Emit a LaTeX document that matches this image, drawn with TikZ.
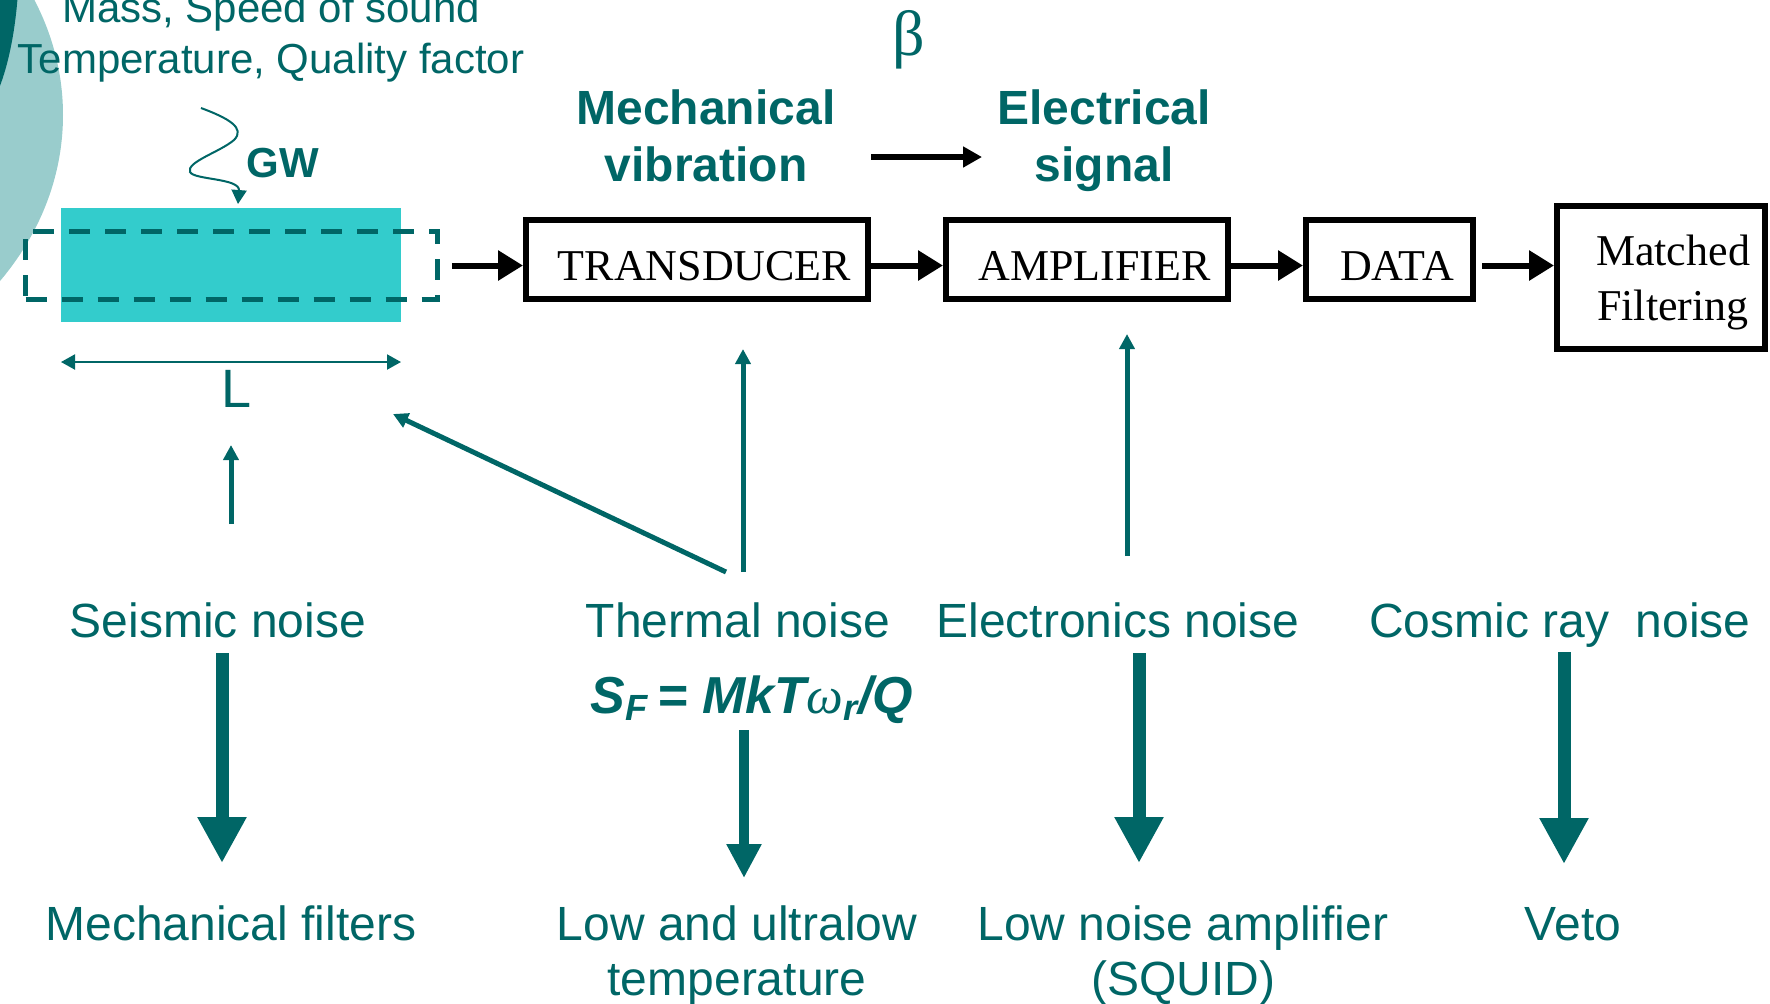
\documentclass[tikz,border=0pt]{standalone}
\usepackage{fontspec}
\setmainfont{Liberation Sans}
\newfontfamily\timesfont{Liberation Serif}
\usepackage{tikz}
\usetikzlibrary{arrows.meta,positioning}
\definecolor{gwteal}{HTML}{006666}
\definecolor{gwcyan}{HTML}{33CCCC}
\definecolor{gwpale}{HTML}{99CCCC}
\tikzset{
  blk/.style   = {rectangle, draw=black, line width=3pt, fill=white, align=center,
                  inner sep=0pt, minimum height=39.5pt,
                  font=\timesfont\fontsize{22}{27.5}\selectfont},
  % single line boxes: text sits a little low and right, as in the slide
  onel/.style  = {blk, text height=20.5pt, text depth=0pt,
                  execute at begin node={\hspace*{7.5pt}}},
  bar/.style   = {rectangle, fill=gwcyan, inner sep=0pt, outer sep=0pt,
                  minimum width=170pt, minimum height=57pt},
  dashbox/.style = {rectangle, draw=gwteal, line width=2.4pt, inner sep=0pt,
                  dash pattern=on 10.5pt off 7.5pt, minimum width=206pt, minimum height=34.15pt},
  % base of a two line node is the baseline of its last line
  lbl/.style   = {text=gwteal, align=center, inner sep=0pt, anchor=base,
                  font=\fontsize{24}{27.5}\selectfont},
  small/.style = {lbl, font=\fontsize{21}{25.5}\selectfont},
  head/.style  = {lbl, font=\bfseries\fontsize{24}{28.5}\selectfont},
  flow/.style  = {-{Triangle[length=12.5pt,width=14.5pt]}, line width=3pt, draw=black},
  conv/.style  = {-{Triangle[length=9.5pt,width=10pt]}, line width=3pt, draw=black},
  up/.style    = {-{Triangle[length=7.5pt,width=7.5pt]}, line width=2.5pt, draw=gwteal},
  dim/.style   = {{Triangle[length=7pt,width=7.5pt]}-{Triangle[length=7pt,width=7.5pt]},
                  line width=1pt, draw=gwteal},
  wave/.style  = {-{Triangle[length=7pt,width=7.5pt]}, line width=1pt, draw=gwteal},
  fat/.style   = {-{Triangle[length=23pt,width=23pt]}, line width=6.5pt, draw=gwteal},
  fatt/.style  = {-{Triangle[length=17pt,width=16.5pt]}, line width=5.25pt, draw=gwteal},
}

\begin{document}
\begin{tikzpicture}[x=0.5pt, y=-0.5pt]
\useasboundingbox (0,0) rectangle (1770,1003);
\begin{scope}
\clip (0,0) rectangle (1770,1003);
\fill[gwpale] (-287,115) ellipse [x radius=350, y radius=290];
\fill[gwteal] (-39,-40) ellipse [x radius=58, y radius=170];
\end{scope}

\node[small] (par) at (271,73) {Mass, Speed of sound\\Temperature, Quality factor};
\node[bar] (bar) at (231,265) {};
\node[dashbox] (res) at (231.5,265.5) {};
\node[lbl, font=\bfseries\fontsize{21}{25}\selectfont] (gw) at (283,177) {GW};
\node[lbl, font=\fontsize{27}{30}\selectfont] (len) at (237,407) {L};
\node[lbl, font=\timesfont\fontsize{32}{36}\selectfont] (beta) at (909,55) {β};
\node[head] (mech) at (706,181) {Mechanical\\vibration};
\node[head] (elsig) at (1104,181) {Electrical\\signal};

\node[onel, minimum width=171pt] (tr) at (697,259.5) {TRANSDUCER};
\node[onel, minimum width=141pt, right=36pt of tr] (amp) {AMPLIFIER};
\node[onel, minimum width=83.5pt, right=36pt of amp] (dat) {DATA};
\node[blk, minimum width=104pt, minimum height=71.5pt, text depth=0pt,
  right=39pt of dat, yshift=-9pt] (mf) {\hspace*{12pt}Matched\\\hspace*{12pt}Filtering};

\node[lbl] (seis) at (218,637) {Seismic noise};
\node[lbl] (therm) at (738,637) {Thermal noise};
\node[lbl] (elec) at (1118,637) {Electronics noise};
\node[lbl] (cosm) at (1560,637) {Cosmic ray\ \ noise};
\node[lbl, font=\bfseries\itshape\fontsize{26}{30}\selectfont] (sf) at (752,713)
  {S\textsubscript{F}\,=\;MkT{\timesfont\mdseries ω}\textsubscript{r}/Q};
\node[lbl] (mfilt) at (231,940) {Mechanical filters};
\node[lbl] (lowt) at (737,995) {Low and ultralow\\temperature};
\node[lbl] (squid) at (1183,995) {Low noise amplifier\\(SQUID)};
\node[lbl] (veto) at (1573,940) {Veto};

\coordinate (gwtail) at (201,108);
\coordinate (vib) at (871,157); \coordinate (sig) at (982,157);
\coordinate (a1) at (231,524); \coordinate (a2) at (231,445);
\coordinate (b1) at (726,572); \coordinate (b2) at (393,414);
\coordinate (c1) at (743,572); \coordinate (c2) at (743,349);
\coordinate (d1) at (1127,556); \coordinate (d2) at (1127,334);
\coordinate (e1) at (222,653); \coordinate (e2) at (222,863);
\coordinate (f1) at (744,730); \coordinate (f2) at (744,878);
\coordinate (g1) at (1139,653); \coordinate (g2) at (1139,863);
\coordinate (h1) at (1564,652); \coordinate (h2) at (1564,864);

\draw[wave] (gwtail) .. controls (228,118) and (246,128) .. (234,140)
  .. controls (220,152) and (186,162) .. (190,172)
  .. controls (194,180) and (240,178) .. ([xshift=3.5pt,yshift=2pt]bar.north);
\draw[dim] ([yshift=-20pt]bar.south west) -- ([yshift=-20pt]bar.south east);
\draw[conv] (vib) -- (sig);

\draw[flow, shorten <=6pt] (res.east) -- (res.east -| tr.west);
\draw[flow] ([yshift=-3pt]tr.east) -- ([yshift=-3pt]amp.west);
\draw[flow] ([yshift=-3pt]amp.east) -- ([yshift=-3pt]dat.west);
\draw[flow, shorten <=3pt] ([yshift=-3pt]dat.east) -- ([yshift=-3pt]dat.east -| mf.west);

\draw[up] (a1) -- (a2); \draw[up] (b1) -- (b2);
\draw[up] (c1) -- (c2); \draw[up] (d1) -- (d2);
\draw[fat] (e1) -- (e2); \draw[fatt] (f1) -- (f2);
\draw[fat] (g1) -- (g2); \draw[fat] (h1) -- (h2);
\end{tikzpicture}
\end{document}
